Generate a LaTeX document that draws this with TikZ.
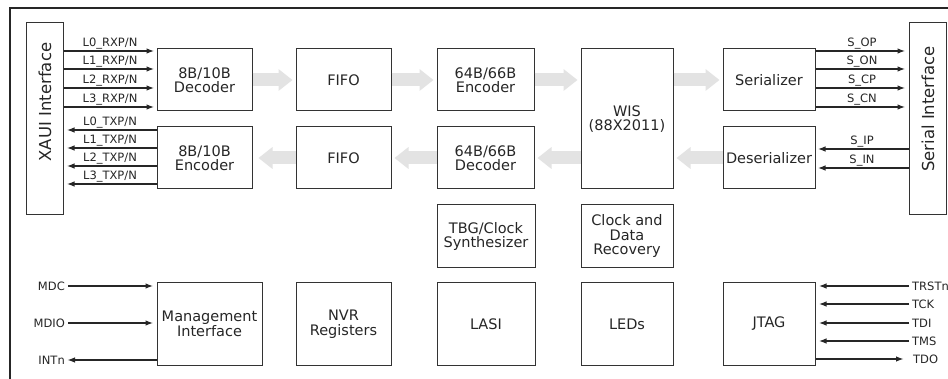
\documentclass[tikz,border=0pt]{standalone}
\usepackage{fontspec}
\setmainfont{DejaVu Sans}
\usetikzlibrary{arrows.meta}
\begin{document}
\begin{tikzpicture}[x=1pt,y=-1pt,
  box/.style={draw=black!80, line width=1pt, fill=white, inner sep=0pt, align=center,
    text=black!85, font=\fontsize{14.5}{14.5}\selectfont},
  sig/.style={line width=1.8pt, draw=black!85, -{Latex[length=8pt,width=5.5pt]}},
  lbl/.style={font=\fontsize{11.5}{11.5}\selectfont, text=black!85, inner sep=1pt},
  fat/.style={line width=13pt, draw=black!11, -{Triangle[length=14pt,width=21pt]}, shorten >=3pt},
  vtxt/.style={rotate=90, font=\fontsize{16.5}{16.5}\selectfont, text=black!85, inner sep=0pt}]
\useasboundingbox (0,0) rectangle (948,379);
\fill[white] (0,0) rectangle (948,379);
% frame
\draw[line width=1.8pt, black!85] (10,382) -- (10,8) -- (951,8);

% side interfaces
\node[box, minimum width=37pt, minimum height=192pt] (xaui) at (44.5,119) {};
\node[vtxt] (xauit) at (45,102) {XAUI Interface};
\node[box, minimum width=37pt, minimum height=192pt] (serif) at (927.5,119) {};
\node[vtxt] (serift) at (928,109) {Serial Interface};

% upper path
\node[box, minimum width=95pt, minimum height=62pt] (dec8) at (204.5,80) {8B/10B\\Decoder};
\node[box, minimum width=95pt, minimum height=62pt] (fifo1) at (343.5,80) {FIFO};
\node[box, minimum width=97pt, minimum height=62pt] (enc64) at (485.5,80) {64B/66B\\Encoder};
\node[box, minimum width=92pt, minimum height=140pt] (wis) at (627,119) {WIS\\(88X2011)};
\node[box, minimum width=92pt, minimum height=62pt] (ser) at (769,80) {Serializer};
% lower path
\node[box, minimum width=95pt, minimum height=62pt] (enc8) at (204.5,158) {8B/10B\\Encoder};
\node[box, minimum width=95pt, minimum height=62pt] (fifo2) at (343.5,158) {FIFO};
\node[box, minimum width=97pt, minimum height=62pt] (dec64) at (485.5,158) {64B/66B\\Decoder};
\node[box, minimum width=92pt, minimum height=62pt] (deser) at (769,158) {Deserializer};
% clocks
\node[box, minimum width=98pt, minimum height=63pt] (tbg) at (486,236.5) {TBG/Clock\\Synthesizer};
\node[box, minimum width=92pt, minimum height=63pt] (cdr) at (627,236.5) {Clock and\\Data\\Recovery};
% bottom row
\node[box, minimum width=105pt, minimum height=82pt] (mgmt) at (209.5,324) {Management\\Interface};
\node[box, minimum width=95pt, minimum height=82pt] (nvr) at (343.5,324) {NVR\\Registers};
\node[box, minimum width=98pt, minimum height=82pt] (lasi) at (486,324) {LASI};
\node[box, minimum width=92pt, minimum height=82pt] (leds) at (627,324) {LEDs};
\node[box, minimum width=92pt, minimum height=82pt] (jtag) at (769,324) {JTAG};

% fat data-path arrows
\draw[fat] (dec8.east) -- (fifo1.west);
\draw[fat] (fifo1.east) -- (enc64.west);
\draw[fat] (enc64.east) -- (wis.west |- enc64.east);
\draw[fat] (wis.east |- ser.west) -- (ser.west);
\draw[fat, shorten >=6pt] (fifo2.west) -- (enc8.east);
\draw[fat] (dec64.west) -- (fifo2.east);
\draw[fat] (wis.west |- dec64.west) -- (dec64.east);
\draw[fat] (deser.west) -- (wis.east |- deser.west);

% XAUI lanes
\foreach \y/\t in {51/L0, 69/L1, 88/L2, 107/L3}
  \draw[sig, shorten >=2pt] (xaui.east |- 0,\y) -- node[lbl, above] {\t\_RXP/N} (dec8.west |- 0,\y);
\foreach \y/\t in {130/L0, 148/L1, 166/L2, 184/L3}
  \draw[sig, shorten >=3pt] (enc8.west |- 0,\y) -- node[lbl, above] {\t\_TXP/N} (xaui.east |- 0,\y);

% serial lanes
\foreach \y/\t in {51/S\_OP, 69/S\_ON, 88/S\_CP, 107/S\_CN}
  \draw[sig, shorten >=3pt] (ser.east |- 0,\y) -- node[lbl, above] {\t} (serif.west |- 0,\y);
\foreach \y/\t in {149/S\_IP, 168/S\_IN}
  \draw[sig, shorten >=2pt] (serif.west |- 0,\y) -- node[lbl, above] {\t} (deser.east |- 0,\y);

% management signals
\node[lbl, anchor=east] (mdcl) at (66,286) {MDC};
\node[lbl, anchor=east] (mdiol) at (66,323) {MDIO};
\node[lbl, anchor=east] (intl) at (66,360) {INTn};
\draw[sig, shorten <=2pt, shorten >=3pt] (mdcl.east) -- (mgmt.west |- mdcl.east);
\draw[sig, shorten <=2pt, shorten >=3pt] (mdiol.east) -- (mgmt.west |- mdiol.east);
\draw[sig, shorten >=1pt] (mgmt.west |- intl.east) -- (intl.east);

% JTAG signals
\node[lbl, anchor=west] (trl) at (911,286) {TRSTn};
\node[lbl, anchor=west] (tckl) at (911,304) {TCK};
\node[lbl, anchor=west] (tdil) at (911,323) {TDI};
\node[lbl, anchor=west] (tmsl) at (911,341) {TMS};
\node[lbl, anchor=west] (tdol) at (912,359) {TDO};
\foreach \n in {trl, tckl, tdil, tmsl}
  \draw[sig, shorten <=2pt, shorten >=3pt] (\n.west) -- (jtag.east |- \n.west);
\draw[sig, shorten >=8pt] (jtag.east |- tdol.west) -- (tdol.west);
\end{tikzpicture}
\end{document}
